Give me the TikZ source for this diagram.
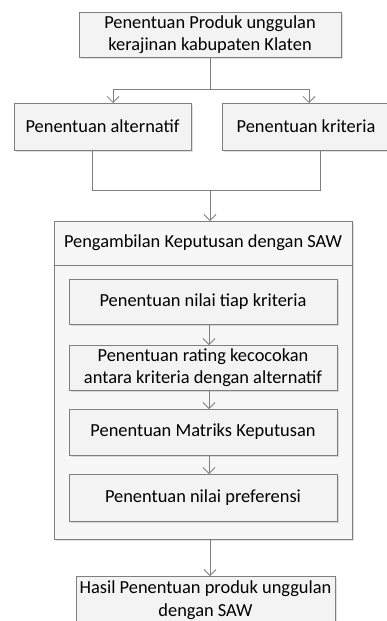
\documentclass[tikz,border=0pt]{standalone}
\usepackage{fontspec}
\setmainfont{Carlito}
\usetikzlibrary{arrows.meta,shadows}
\definecolor{lineg}{HTML}{7F7F7F}
\definecolor{boxfill}{HTML}{F3F3F3}
\definecolor{grpfill}{HTML}{F7F7F7}
\tikzset{
  box/.style={draw=lineg, line width=0.9pt, fill=boxfill,
    drop shadow={shadow xshift=1.5pt, shadow yshift=-1.5pt, fill=black, opacity=0.12}},
  grp/.style={draw=lineg, line width=0.9pt, fill=grpfill,
    drop shadow={shadow xshift=1.5pt, shadow yshift=-1.5pt, fill=black, opacity=0.12}},
  lbl/.style={align=center, font=\fontsize{18.4}{22.5}\selectfont, text=black},
  conn/.style={draw=lineg, line width=0.9pt},
  arr/.style={conn, -{Straight Barb[length=6pt, width=12pt, line width=0.8pt]}},
}
\begin{document}
\begin{tikzpicture}[x=1pt,y=-1pt]
\useasboundingbox (0,0) rectangle (387,621);
\clip (0,0) rectangle (387,621);
\fill[white] (0,0) rectangle (387,621);
% top box
\draw[box] (79,12) rectangle (341,57);
\node[lbl] (top) at (210,34.5) {Penentuan Produk unggulan\\kerajinan kabupaten Klaten};
\coordinate (topb) at (210,57);
% alternatives
\draw[box] (14,103) rectangle (191,150);
\node[lbl] (alt) at (102.5,126.5) {Penentuan alternatif};
\draw[box] (222,103) rectangle (395,150);
\node[lbl] (kri) at (306,126.5) {Penentuan kriteria};
\coordinate (altt) at (113,103);
\coordinate (krit) at (309,103);
\coordinate (altb) at (92,150);
\coordinate (krib) at (320,150);
\coordinate (split) at (210,89);
\coordinate (join) at (210,190);
\draw[conn] (topb) -- (split);
\draw[arr] (split) -| (altt);
\draw[arr] (split) -| (krit);
\draw[conn] (altb) |- (join);
\draw[conn] (krib) |- (join);
% group
\draw[grp] (54,221) rectangle (352,539);
\draw[conn] (54,265) -- (352,265);
\node[lbl] (grph) at (203,243) {Pengambilan Keputusan dengan SAW};
\coordinate (grpt) at (210,221);
\coordinate (grpb) at (210,539);
\draw[arr] (join) -- (grpt);
% inner boxes
\draw[box] (69,279) rectangle (337,324);
\node[lbl] (s1) at (203,301.5) {Penentuan nilai tiap kriteria};
\draw[box] (69,345) rectangle (337,390);
\node[lbl] (s2) at (203,367.5) {Penentuan rating kecocokan\\antara kriteria dengan alternatif};
\draw[box] (69,409) rectangle (337,455);
\node[lbl] (s3) at (203,432) {Penentuan Matriks Keputusan};
\draw[box] (69,474) rectangle (337,521);
\node[lbl] (s4) at (203,497.5) {Penentuan nilai preferensi};
\draw[arr] (209,324) -- (209,345);
\draw[arr] (209,390) -- (209,409);
\draw[arr] (209,455) -- (209,474);
% result
\draw[box] (76,576) rectangle (335,640);
\node[lbl] (res) at (205.5,600) {Hasil Penentuan produk unggulan\\dengan SAW};
\draw[arr] (grpb) -- (210,576);
\end{tikzpicture}
\end{document}
